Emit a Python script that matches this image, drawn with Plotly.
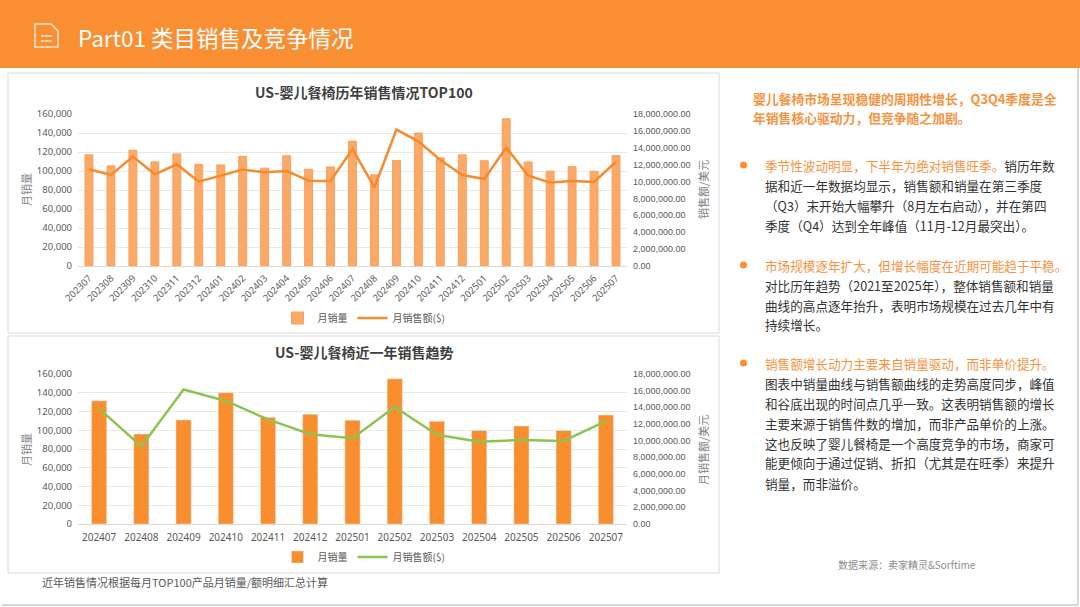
import plotly.graph_objects as go

# monthly data, TOP100 baby high chairs (US)
months = ["202307", "202308", "202309", "202310", "202311", "202312", "202401",
          "202402", "202403", "202404", "202405", "202406", "202407", "202408",
          "202409", "202410", "202411", "202412", "202501", "202502", "202503",
          "202504", "202505", "202506", "202507"]
units = [117000, 105400, 121900, 109600, 118000, 107000, 106400, 115200, 103000,
         116000, 101900, 104300, 131500, 96000, 111000, 140000, 113800, 117000,
         110800, 155000, 109500, 99800, 104600, 99800, 116200]
sales = [11460000, 10780000, 12960000, 10860000, 12050000, 9990000, 10700000,
         11420000, 11100000, 11260000, 10110000, 10070000, 13850000, 9300000,
         16150000, 14770000, 12550000, 10780000, 10300000, 14030000, 10700000,
         9880000, 10080000, 9960000, 12350000]

# the last 12 months (plus the month a year back) for the lower chart
recent_months = months[-13:]
recent_units = units[-13:]
recent_sales = sales[-13:]

W, H = 1080, 607
ORANGE = "#F98E33"
GREEN = "#8DC451"
FONT = "Noto Sans, Noto Sans CJK SC"
CJK = "Noto Sans CJK SC"


def px(x):
    return x / W


def py(y):
    return 1 - y / H


fig = go.Figure()

# top chart
fig.add_trace(go.Bar(x=months, y=units, name="月销量",
                     marker=dict(color="#FAAA66", line=dict(color="#F7A060", width=1)),
                     xaxis="x", yaxis="y", legend="legend"))
fig.add_trace(go.Scatter(x=months, y=sales, name="月销售额($)", mode="lines",
                         line=dict(color="#F58A2E", width=2.5),
                         xaxis="x", yaxis="y2", legend="legend"))

# bottom chart
fig.add_trace(go.Bar(x=recent_months, y=recent_units, name="月销量",
                     marker=dict(color="#F98E2E"),
                     xaxis="x2", yaxis="y3", legend="legend2"))
fig.add_trace(go.Scatter(x=recent_months, y=recent_sales, name="月销售额($)", mode="lines",
                         line=dict(color=GREEN, width=2.5),
                         xaxis="x2", yaxis="y4", legend="legend2"))

xdom = [px(78), px(627)]
tick_font = dict(family=FONT, size=9.5, color="#595959")
left_axis = dict(range=[0, 160000], dtick=20000, tickformat=",", gridcolor="#E8E8E8",
                 zeroline=False, showline=False, ticks="", tickfont=tick_font, automargin=False,
                 ticklabelstandoff=5)
right_axis = dict(range=[0, 18000000], dtick=2000000, tickformat=",.2f", showgrid=False,
                  zeroline=False, showline=False, ticks="", side="right", automargin=False,
                  tickfont=dict(family="Liberation Sans", size=9, color="#595959"),
                  ticklabelstandoff=5)

shapes = [
    # header band
    dict(type="rect", xref="paper", yref="paper", x0=0, x1=1, y0=py(68), y1=1,
         fillcolor=ORANGE, line=dict(width=0), layer="below"),
    # chart panels
    dict(type="rect", xref="paper", yref="paper", x0=px(8), x1=px(719), y0=py(333), y1=py(73),
         fillcolor="white", line=dict(color="#D9D9D9", width=1), layer="below"),
    dict(type="rect", xref="paper", yref="paper", x0=px(8), x1=px(719), y0=py(573), y1=py(336),
         fillcolor="white", line=dict(color="#D9D9D9", width=1), layer="below"),
    # slide edge
    dict(type="line", xref="paper", yref="paper", x0=px(1078), x1=px(1078), y0=py(605), y1=py(68),
         line=dict(color="#C8C8C8", width=1.5)),
    dict(type="line", xref="paper", yref="paper", x0=px(2), x1=px(1078), y0=py(605), y1=py(605),
         line=dict(color="#C8C8C8", width=1.5)),
    # document icon
    dict(type="path", xref="paper", yref="paper",
         path="M {0} {1} L {2} {1} L {3} {4} L {3} {5} L {0} {5} Z".format(
             px(35), py(24), px(51), px(58), py(31), py(47)),
         line=dict(color="#FDE3CB", width=1.6)),
    dict(type="line", xref="paper", yref="paper", x0=px(41), x1=px(52), y0=py(36), y1=py(36),
         line=dict(color="#FDE3CB", width=1.6)),
    dict(type="line", xref="paper", yref="paper", x0=px(41), x1=px(52), y0=py(41), y1=py(41),
         line=dict(color="#FDE3CB", width=1.6)),
]

annotations = [
    dict(text="Part01 类目销售及竞争情况", x=px(76), y=py(37), xanchor="left", yanchor="middle",
         font=dict(family=CJK, size=22.5, color="white")),
    dict(text="<b>US-婴儿餐椅历年销售情况TOP100</b>", x=px(364), y=py(92),
         font=dict(family=CJK, size=14, color="#404040")),
    dict(text="<b>US-婴儿餐椅近一年销售趋势</b>", x=px(364), y=py(352),
         font=dict(family=CJK, size=14, color="#404040")),
    dict(text="月销量", x=px(26), y=py(190), textangle=-90,
         font=dict(family=CJK, size=11, color="#7F7F7F")),
    dict(text="销售额/美元", x=px(703), y=py(190), textangle=-90,
         font=dict(family=CJK, size=11, color="#7F7F7F")),
    dict(text="月销量", x=px(26), y=py(450), textangle=-90,
         font=dict(family=CJK, size=11, color="#7F7F7F")),
    dict(text="月销售额/美元", x=px(703), y=py(450), textangle=-90,
         font=dict(family=CJK, size=11, color="#7F7F7F")),
    dict(text="近年销售情况根据每月TOP100产品月销量/额明细汇总计算", x=px(40), y=py(582),
         xanchor="left", font=dict(family=CJK, size=11, color="#595959")),
    dict(text="数据来源：卖家精灵&Sorftime", x=px(907), y=py(564),
         font=dict(family=CJK, size=10, color="#8C8C8C")),
]

# right-hand commentary
HL = "#F5923E"
BODY = "#333333"
annotations.append(dict(text="<b>婴儿餐椅市场呈现稳健的周期性增长，Q3Q4季度是全</b>", x=px(751), y=py(99),
                        xanchor="left", font=dict(family=CJK, size=12.8, color=HL)))
annotations.append(dict(text="<b>年销售核心驱动力，但竞争随之加剧。</b>", x=px(751), y=py(117),
                        xanchor="left", font=dict(family=CJK, size=12.8, color=HL)))

bullets = [
    (165, ["<span style='color:%s'>季节性波动明显，下半年为绝对销售旺季。</span>销历年数" % HL,
           "据和近一年数据均显示，销售额和销量在第三季度",
           "（Q3）末开始大幅攀升（8月左右启动），并在第四",
           "季度（Q4）达到全年峰值（11月-12月最突出）。"]),
    (265, ["<span style='color:%s'>市场规模逐年扩大，但增长幅度在近期可能趋于平稳。</span>" % HL,
           "对比历年趋势（2021至2025年），整体销售额和销量",
           "曲线的高点逐年抬升，表明市场规模在过去几年中有",
           "持续增长。"]),
    (363, ["<span style='color:%s'>销售额增长动力主要来自销量驱动，而非单价提升。</span>" % HL,
           "图表中销量曲线与销售额曲线的走势高度同步，峰值",
           "和谷底出现的时间点几乎一致。这表明销售额的增长",
           "主要来源于销售件数的增加，而非产品单价的上涨。",
           "这也反映了婴儿餐椅是一个高度竞争的市场，商家可",
           "能更倾向于通过促销、折扣（尤其是在旺季）来提升",
           "销量，而非溢价。"]),
]
for top, lines in bullets:
    shapes.append(dict(type="circle", xref="paper", yref="paper",
                       x0=px(740), x1=px(747), y0=py(top + 3.5), y1=py(top - 3.5),
                       fillcolor=ORANGE, line=dict(width=0)))
    for i, line in enumerate(lines):
        annotations.append(dict(text=line, x=px(763), y=py(top + 20 * i), xanchor="left",
                                font=dict(family=CJK, size=12.6, color=BODY)))

for a in annotations:
    a.setdefault("xref", "paper")
    a.setdefault("yref", "paper")
    a.setdefault("showarrow", False)
    a.setdefault("yanchor", "middle")
    a.setdefault("xanchor", "center")

legend_style = dict(orientation="h", xanchor="center", yanchor="middle", bgcolor="rgba(0,0,0,0)",
                    font=dict(family=CJK, size=10, color="#595959"), itemwidth=30,
                    tracegroupgap=0)

fig.update_layout(
    width=W, height=H,
    margin=dict(l=0, r=0, t=0, b=0, pad=0, autoexpand=False),
    paper_bgcolor="white", plot_bgcolor="rgba(0,0,0,0)",
    bargap=0.64,
    xaxis=dict(domain=xdom, anchor="y", type="category", tickangle=-45, showgrid=False,
               showline=True, linecolor="#D9D9D9", ticks="", tickfont=tick_font, automargin=False,
               ticklabelstandoff=2),
    yaxis=dict(domain=[py(266), py(114)], anchor="x", **left_axis),
    yaxis2=dict(overlaying="y", anchor="x", **right_axis),
    xaxis2=dict(domain=xdom, anchor="y3", type="category", showgrid=False, automargin=False,
                showline=True, linecolor="#D9D9D9", ticks="", ticklabelstandoff=4,
                tickfont=dict(family=FONT, size=10, color="#595959")),
    yaxis3=dict(domain=[py(524), py(374)], anchor="x2", **left_axis),
    yaxis4=dict(overlaying="y3", anchor="x2", **right_axis),
    legend=dict(x=px(364), y=py(318), **legend_style),
    legend2=dict(x=px(364), y=py(557), **legend_style),
    shapes=shapes,
    annotations=annotations,
)

# drop the page margin so the figure sits at the window's top-left corner
fig.write_html("out.html", config={"displayModeBar": False},
               post_script="document.body.style.margin='0px';document.body.style.overflow='hidden';")
